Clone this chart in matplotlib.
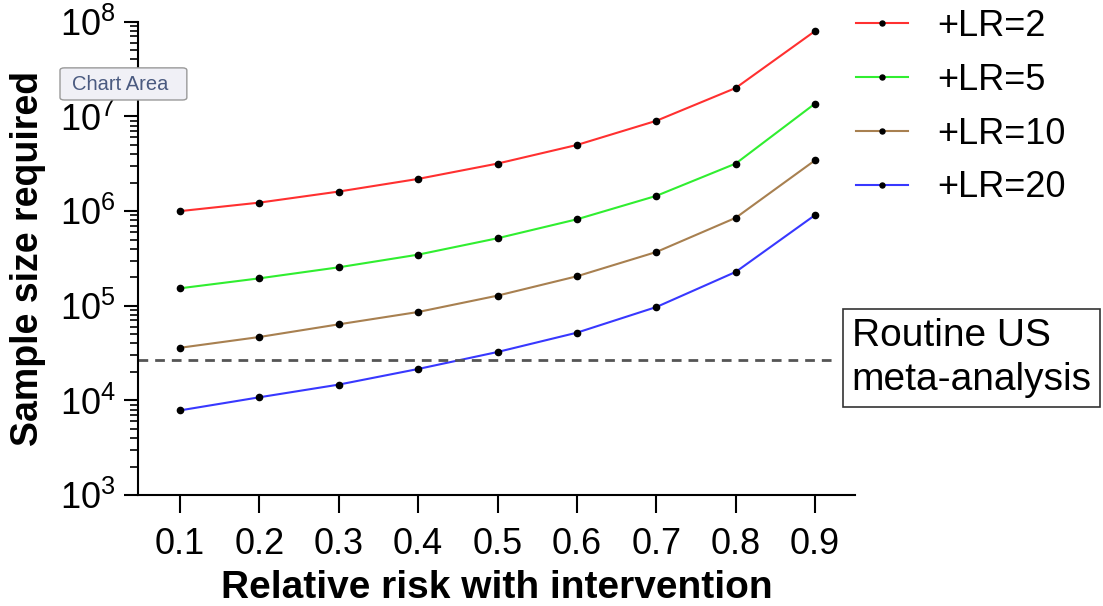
import matplotlib
matplotlib.use("Agg")
import matplotlib.pyplot as plt
from matplotlib.patches import FancyBboxPatch
from matplotlib.ticker import LogLocator, NullFormatter, FixedLocator

plt.rcParams['font.family'] = ['Liberation Sans', 'DejaVu Sans']
plt.rcParams['mathtext.fontset'] = 'custom'
plt.rcParams['mathtext.rm'] = 'Liberation Sans'
plt.rcParams['mathtext.it'] = 'Liberation Sans'

# relative risk with intervention
rr = [0.1, 0.2, 0.3, 0.4, 0.5, 0.6, 0.7, 0.8, 0.9]

# sample size required for each positive likelihood ratio
lr2 = [1.0e6, 1.23e6, 1.61e6, 2.19e6, 3.18e6, 5.0e6, 9.0e6, 2.0e7, 8.0e7]
lr5 = [1.53e5, 1.95e5, 2.55e5, 3.47e5, 5.17e5, 8.2e5, 1.45e6, 3.18e6, 1.37e7]
lr10 = [3.6e4, 4.68e4, 6.37e4, 8.6e4, 1.28e5, 2.05e5, 3.7e5, 8.5e5, 3.45e6]
lr20 = [7.85e3, 1.08e4, 1.47e4, 2.15e4, 3.25e4, 5.2e4, 9.7e4, 2.28e5, 9.1e5]

series_labels = ['+LR=2', '+LR=5', '+LR=10', '+LR=20']
series_colors = ['#ff3030', '#30ee30', '#a88050', '#3838ff']

routine_us = 2.67e4

fig = plt.figure(figsize=(11.03, 6.06), dpi=100)
ax = fig.add_axes([0.125, 0.183, 0.65, 0.781])

handles = []
for ys, lab, col in zip([lr2, lr5, lr10, lr20], series_labels, series_colors):
    h, = ax.plot(rr, ys, color=col, lw=1.5, marker='o', ms=4.5,
                 mfc='black', mec='black', label=lab)
    handles.append(h)

ax.axhline(routine_us, xmax=0.972, color='#555555', lw=2, ls=(0, (3.5, 2.5)))

ax.set_yscale('log')
ax.set_ylim(1e3, 1e8)
ax.set_xlim(0.047, 0.95)

ax.xaxis.set_major_locator(FixedLocator(rr))
ax.set_xticklabels([f'{v:.1f}' for v in rr])
ax.yaxis.set_minor_locator(LogLocator(base=10, subs=range(2, 10), numticks=20))
ax.yaxis.set_minor_formatter(NullFormatter())
ax.set_yticks([1e3, 1e4, 1e5, 1e6, 1e7, 1e8])
ax.set_yticklabels([r'$10^{%d}$' % k for k in range(3, 9)])

for s in ['top', 'right']:
    ax.spines[s].set_visible(False)
ax.spines['left'].set_linewidth(1.5)
ax.spines['bottom'].set_linewidth(1.5)

ax.tick_params(axis='both', which='major', labelsize=26, width=1.5, color='black')
ax.tick_params(axis='x', which='major', length=13, pad=10)
ax.tick_params(axis='y', which='major', length=10, pad=6)
ax.tick_params(axis='y', which='minor', length=6, width=1.2)

ax.set_xlabel('Relative risk with intervention', fontsize=28, fontweight='bold',
              labelpad=6)
ax.set_ylabel('Sample size required', fontsize=27, fontweight='bold', labelpad=10)

fig.legend(handles=handles, loc='upper left', bbox_to_anchor=(0.776, 0.985),
           frameon=False, fontsize=26, handlelength=1.44, handletextpad=0.8,
           labelspacing=0.52, borderpad=0.0, borderaxespad=0.0,
           markerscale=0.8)

fig.text(0.772, 0.409, 'Routine US\nmeta-analysis', fontsize=28, ha='left',
         va='center', linespacing=1.3,
         bbox=dict(boxstyle='square,pad=0.22', fc='white', ec='#333333', lw=1.2))

# tooltip left over from the screenshot
tip = FancyBboxPatch((0.0544, 0.835), 0.115, 0.053,
                     boxstyle='round,pad=0,rounding_size=0.004',
                     transform=fig.transFigure, fc='#f0f0f6', ec='#999999',
                     lw=1)
fig.patches.append(tip)
fig.text(0.0653, 0.861, 'Chart Area', fontsize=14.5, color='#4a5a80',
         ha='left', va='center')

fig.savefig('out.png', dpi=100)
